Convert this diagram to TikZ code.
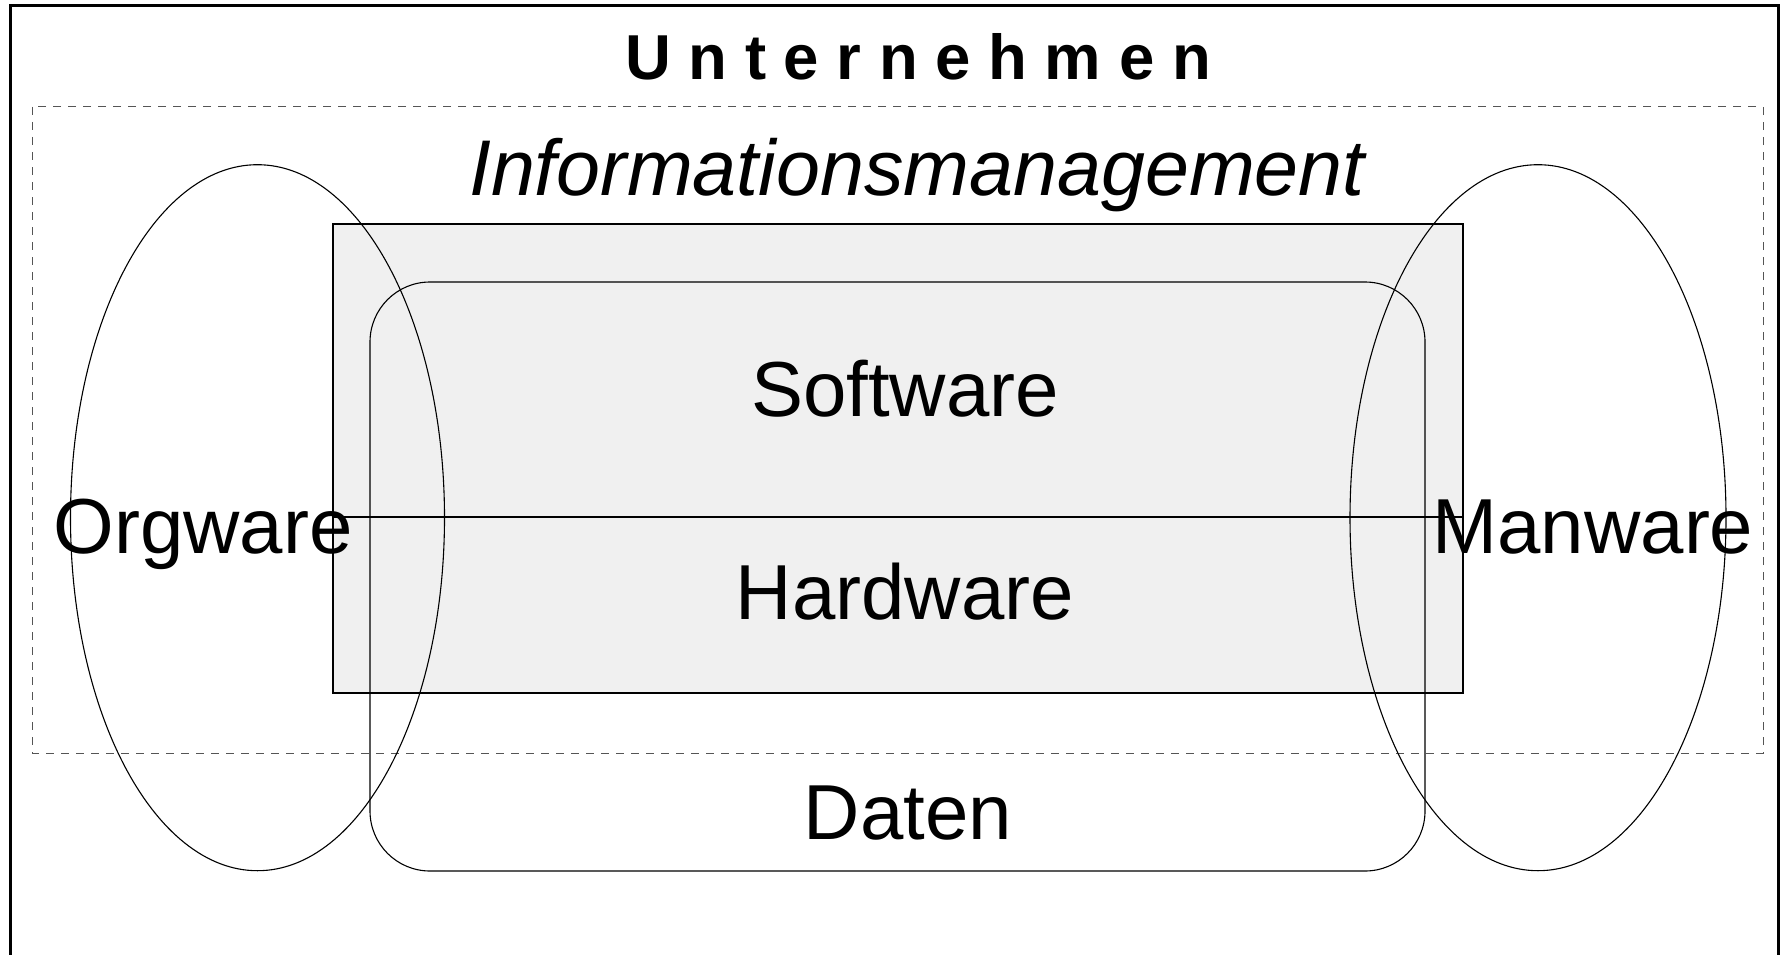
\documentclass[tikz,border=0pt]{standalone}
\usepackage{fontspec}
\setmainfont{Liberation Sans}
\definecolor{boxgray}{HTML}{F0F0F0}
\definecolor{dashgray}{HTML}{555555}
\begin{document}
\begin{tikzpicture}[x=1pt,y=-1pt,
  thinline/.style={line width=1.1pt, draw=black},
  bigtext/.style={font=\fontsize{78}{80}\selectfont, anchor=base, inner sep=0pt},
  titletext/.style={font=\fontsize{63.5}{66}\selectfont\bfseries, anchor=base, inner sep=0pt},
  subtitle/.style={font=\fontsize{79}{82}\selectfont\itshape, anchor=base, inner sep=0pt}]
\useasboundingbox (0,0) rectangle (1782,955);

% enterprise frame (open at the bottom)
\draw[line width=3pt] (10,6) rectangle (1778,985);

% information management area
\draw[line width=1pt, draw=dashgray, dash pattern=on 8pt off 7pt] (32,107) rectangle (1763,753);

% software / hardware block
\draw[thinline, fill=boxgray] (333,224) rectangle (1463,693);

% data container
\draw[thinline, rounded corners=60pt] (370,282) rectangle (1425,871);

% divider between software and hardware
\draw[thinline] (333,517) -- (1463,517);

% orgware and manware ellipses
\draw[thinline] (257.5,517.7) ellipse [x radius=187, y radius=353];
\draw[thinline] (1538,517.7) ellipse [x radius=188, y radius=353];

% labels
\node[titletext] (unternehmen) at (918,80) {U n t e r n e h m e n};
\node[subtitle] (im) at (917,195) {Informationsmanagement};
\node[bigtext] (software) at (905,416) {Software};
\node[bigtext] (hardware) at (905,619) {Hardware};
\node[bigtext] (daten) at (908,839) {Daten};
\node[bigtext] (orgware) at (203,553) {Orgware};
\node[bigtext] (manware) at (1593,553) {Manware};
\end{tikzpicture}
\end{document}
